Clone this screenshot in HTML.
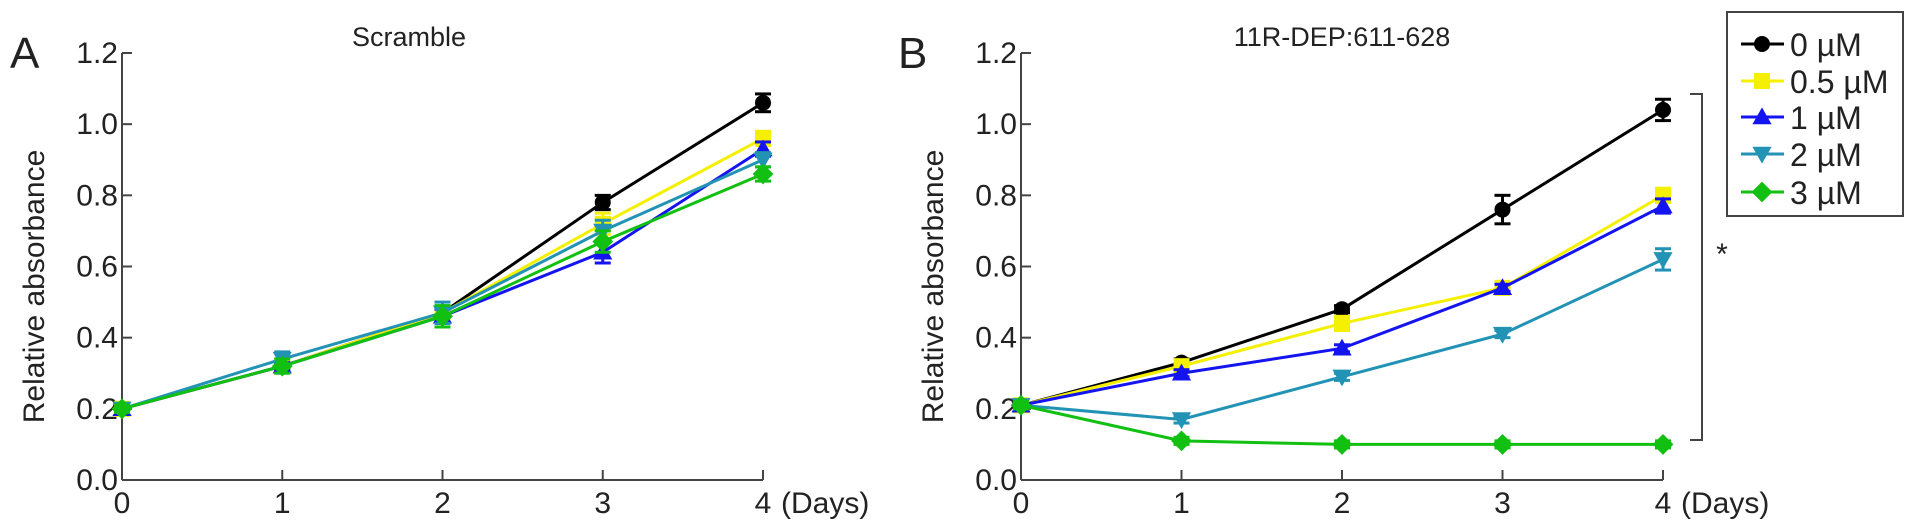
<!DOCTYPE html>
<html><head><meta charset="utf-8"><style>
html,body{margin:0;padding:0;background:#fff;}
svg{display:block;font-family:"Liberation Sans",Arial,sans-serif;}
</style></head><body>
<svg id="chart" width="1913" height="526" viewBox="0 0 1913 526"></svg>
<script>
const days = [0, 1, 2, 3, 4];
const yTicks = [0.0, 0.2, 0.4, 0.6, 0.8, 1.0, 1.2];
const xTickLabels = ["0", "1", "2", "3", "4"];
const seriesNames = ["0 µM", "0.5 µM", "1 µM", "2 µM", "3 µM"];
const scrambleValues = [
  [0.20, 0.32, 0.47, 0.78, 1.06],
  [0.20, 0.32, 0.47, 0.72, 0.96],
  [0.20, 0.32, 0.46, 0.64, 0.93],
  [0.20, 0.34, 0.47, 0.70, 0.90],
  [0.20, 0.32, 0.46, 0.67, 0.86]
];
const scrambleErrors = [
  [0.01, 0.01, 0.02, 0.02, 0.025],
  [0.01, 0.01, 0.02, 0.03, 0.02],
  [0.01, 0.01, 0.02, 0.03, 0.02],
  [0.01, 0.02, 0.03, 0.03, 0.02],
  [0.01, 0.02, 0.03, 0.03, 0.02]
];
const peptideValues = [
  [0.21, 0.33, 0.48, 0.76, 1.04],
  [0.21, 0.32, 0.44, 0.54, 0.80],
  [0.21, 0.30, 0.37, 0.54, 0.77],
  [0.21, 0.17, 0.29, 0.41, 0.62],
  [0.21, 0.11, 0.10, 0.10, 0.10]
];
const peptideErrors = [
  [0.01, 0.01, 0.01, 0.04, 0.03],
  [0.01, 0.01, 0.02, 0.01, 0.02],
  [0.01, 0.01, 0.01, 0.01, 0.02],
  [0.01, 0.01, 0.01, 0.01, 0.03],
  [0.01, 0.01, 0.01, 0.01, 0.01]
];
const colors = ["#000000", "#f4f000", "#1414f0", "#2293b5", "#12c012"];
const shapes = ["circle", "square", "up", "down", "diamond"];

const NS = "http://www.w3.org/2000/svg";
const svg = document.getElementById("chart");
function el(tag, attrs, parent) {
  const e = document.createElementNS(NS, tag);
  for (const k in attrs) e.setAttribute(k, attrs[k]);
  (parent || svg).appendChild(e);
  return e;
}
function txt(x, y, s, size, anchor, parent) {
  const t = el("text", {x: x, y: y, "font-size": size, "text-anchor": anchor || "middle", fill: "#222"}, parent);
  t.textContent = s;
  return t;
}
function marker(g, shape, x, y, c, r) {
  let m;
  if (shape === "circle") m = el("circle", {cx: x, cy: y, r: r, fill: c}, g);
  else if (shape === "square") m = el("rect", {x: x - r, y: y - r, width: 2 * r, height: 2 * r, fill: c}, g);
  else if (shape === "up") m = el("polygon", {points: `${x},${y - r * 1.2} ${x - r * 1.2},${y + r * 0.9} ${x + r * 1.2},${y + r * 0.9}`, fill: c}, g);
  else if (shape === "down") m = el("polygon", {points: `${x},${y + r * 1.2} ${x - r * 1.2},${y - r * 0.9} ${x + r * 1.2},${y - r * 0.9}`, fill: c}, g);
  else m = el("polygon", {points: `${x},${y - r * 1.3} ${x + r * 1.3},${y} ${x},${y + r * 1.3} ${x - r * 1.3},${y}`, fill: c}, g);
  return m;
}

function panel(opt) {
  const g = el("g", {});
  
  
  const x0 = opt.x0, x1 = opt.x1, y0 = 480, y1 = 53;
  const xs = d => x0 + (d - days[0]) / (days[days.length - 1] - days[0]) * (x1 - x0);
  const ys = v => y0 - v / 1.2 * (y0 - y1);
  const ax = el("g", {stroke: "#444", "stroke-width": 2, fill: "none"}, g);
  
  
  el("line", {x1: x0, y1: y0, x2: x0, y2: y1}, ax);
  el("line", {x1: x0, y1: y0, x2: x1, y2: y0}, ax);
  yTicks.forEach(v => {
    el("line", {x1: x0, y1: ys(v), x2: x0 + 10, y2: ys(v)}, ax);
    const t = txt(x0 - 4, ys(v) + 10, v.toFixed(1), 30, "end", g);
    
    
  });
  days.forEach((d, i) => {
    el("line", {x1: xs(d), y1: y0, x2: xs(d), y2: y0 - 10}, ax);
    const t = txt(xs(d), y0 + 33, xTickLabels[i], 30, "middle", g);
    
    
  });
  const du = txt(xs(days[4]) + 18, y0 + 33, "(Days)", 30, "start", g);
  
  
  const yt = txt(0, 0, "Relative absorbance", 30, "middle", g);
  yt.setAttribute("transform", `translate(${x0 - 78},${(y0 + y1) / 2 + 20}) rotate(-90)`);
  
  
  const ti = txt(opt.titleX, 46, opt.title, 27, "middle", g);
  
  
  const pl = txt(opt.letterX, 68, opt.letter, 44, "start", g);
  
  
  opt.values.forEach((vals, s) => {
    const sg = el("g", {}, g);
    
    
    const pts = vals.map((v, i) => xs(days[i]) + "," + ys(v)).join(" ");
    el("polyline", {points: pts, fill: "none", stroke: colors[s], "stroke-width": 3}, sg);
    vals.forEach((v, i) => {
      const e = opt.errors[s][i];
      const x = xs(days[i]);
      el("line", {x1: x, y1: ys(v - e), x2: x, y2: ys(v + e), stroke: colors[s], "stroke-width": 3}, sg);
      el("line", {x1: x - 8, y1: ys(v - e), x2: x + 8, y2: ys(v - e), stroke: colors[s], "stroke-width": 3}, sg);
      el("line", {x1: x - 8, y1: ys(v + e), x2: x + 8, y2: ys(v + e), stroke: colors[s], "stroke-width": 3}, sg);
      const m = marker(sg, shapes[s], x, ys(v), colors[s], 8);
      
      
    });
  });
  return {xs: xs, ys: ys};
}

panel({name: "panel-a-scramble", x0: 122, x1: 763, values: scrambleValues, errors: scrambleErrors, title: "Scramble", titleX: 409, letter: "A", letterX: 10});
panel({name: "panel-b-peptide", x0: 1021, x1: 1663, values: peptideValues, errors: peptideErrors, title: "11R-DEP:611-628", titleX: 1342, letter: "B", letterX: 898});

const br = el("g", {stroke: "#444", "stroke-width": 2, fill: "none"});


el("polyline", {points: "1690,94 1702,94 1702,440 1690,440"}, br);
const ast = txt(1722, 264, "*", 30, "middle");



const lg = el("g", {});


el("rect", {x: 1727, y: 12, width: 176, height: 204, fill: "#fff", stroke: "#444", "stroke-width": 2}, lg);
const legY = [44, 81, 117, 154, 192];
seriesNames.forEach((n, i) => {
  const e = el("g", {}, lg);
  
  
  el("line", {x1: 1741, y1: legY[i], x2: 1784, y2: legY[i], stroke: colors[i], "stroke-width": 3}, e);
  marker(e, shapes[i], 1762, legY[i], colors[i], 8);
  txt(1790, legY[i] + 12, n, 32, "start", e);
});
</script>
</body></html>
